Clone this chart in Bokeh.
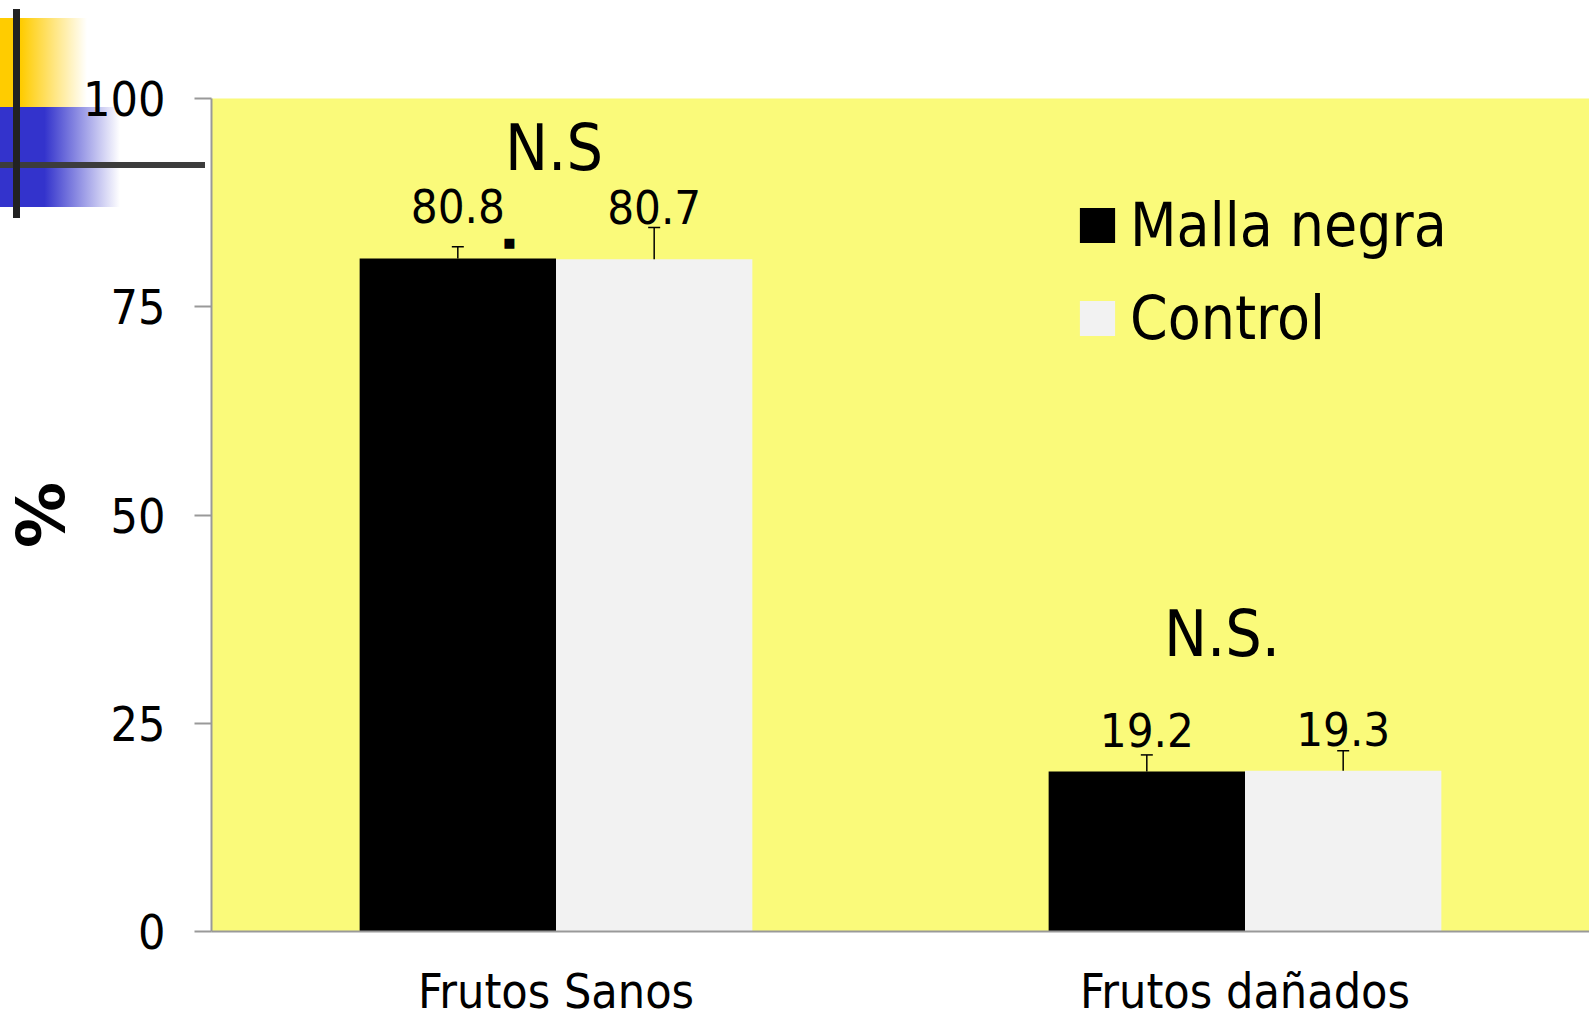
from bokeh.plotting import figure
from bokeh.models import (FactorRange, FixedTicker, ColumnDataSource, Legend, LegendItem,
                          Label, Range1d, InlineStyleSheet)
from bokeh.transform import dodge
from bokeh.embed import file_html
from bokeh.resources import INLINE
from bokeh.core.properties import value

# ---------------- data ----------------
categories = ["Frutos Sanos", "Frutos dañados"]
series_names = ["Malla negra", "Control"]
malla = [80.8, 19.2]
control = [80.7, 19.3]
malla_err = [1.4, 2.0]
control_err = [3.8, 2.4]
y_ticks = [0, 25, 50, 75, 100]
sig_labels = ["N.S", "N.S."]

# ---------------- style ----------------
FONT = "DejaVu Sans Condensed, DejaVu Sans"
YELLOW_BG = "#FAFA7A"
CONTROL_COL = "#F2F2F2"
AXIS_COL = "#999999"
W, H = 1589, 1021
FL, FT, FB = 207, 98, 934   # frame edges (canvas px)
BAR_W = 0.285
OFF = BAR_W / 2
label_pad = [6.3, 5.0]      # value-label lift per category (y units)

p = figure(x_range=FactorRange(factors=categories, range_padding=0),
           y_range=Range1d(0, 100), width=W, height=H,
           output_backend="svg", toolbar_location=None,
           min_border_left=FL, min_border_right=0, min_border_top=FT,
           min_border_bottom=H - FB)
p.background_fill_color = YELLOW_BG
p.border_fill_alpha = 0
p.outline_line_color = None
p.grid.visible = False

# slide decoration (top-left) drawn as the figure's CSS background
deco = {
    "background-color": "white",
    "background-image": ("linear-gradient(#222222,#222222), "
                         "linear-gradient(#3C3C3C,#3C3C3C), "
                         "linear-gradient(to right, #FFCC00 0%, #FFCC00 24%, rgba(255,204,0,0) 100%), "
                         "linear-gradient(to right, #3333CC 0%, #3333CC 37%, rgba(51,51,204,0) 100%)"),
    "background-position": "13px 9px, 0px 162px, 0px 18px, 0px 107px",
    "background-size": "7px 209px, 205px 6px, 87px 89px, 120px 100px",
    "background-repeat": "no-repeat",
}
p.styles = deco
p.stylesheets = [InlineStyleSheet(css=":host {" + "".join(f"{k}: {v};" for k, v in deco.items()) + "}")]

# y axis
p.yaxis.ticker = FixedTicker(ticks=y_ticks)
p.yaxis.major_label_text_font = FONT
p.yaxis.major_label_text_font_size = "48px"
p.yaxis.major_label_text_color = "black"
p.yaxis.major_tick_out = 17
p.yaxis.major_tick_in = 0
p.yaxis.minor_tick_out = 0
p.yaxis.minor_tick_in = 0
p.yaxis.major_tick_line_color = AXIS_COL
p.yaxis.major_tick_line_width = 2
p.yaxis.axis_line_color = AXIS_COL
p.yaxis.axis_line_width = 2
p.yaxis.major_label_standoff = 29
p.yaxis.axis_label = "%"
p.yaxis.axis_label_text_font = "DejaVu Sans"
p.yaxis.axis_label_text_font_size = "66px"
p.yaxis.axis_label_text_font_style = "bold"
p.yaxis.axis_label_text_color = "black"
p.yaxis.axis_label_standoff = 0

# x axis
p.xaxis.major_label_text_font = FONT
p.xaxis.major_label_text_font_size = "48px"
p.xaxis.major_label_text_color = "black"
p.xaxis.major_tick_out = 0
p.xaxis.major_tick_in = 0
p.xaxis.axis_line_color = AXIS_COL
p.xaxis.axis_line_width = 2
p.xaxis.major_label_standoff = 31

src = ColumnDataSource(dict(
    cat=categories,
    malla=malla, control=control,
    malla_hi=[v + e for v, e in zip(malla, malla_err)],
    control_hi=[v + e for v, e in zip(control, control_err)],
    malla_txt=[f"{v:.1f}" for v in malla],
    control_txt=[f"{v:.1f}" for v in control],
    malla_ly=[v + d for v, d in zip(malla, label_pad)],
    control_ly=[v + d for v, d in zip(control, label_pad)],
))

xm = dodge("cat", -OFF, range=p.x_range)
xc = dodge("cat", OFF, range=p.x_range)

r1 = p.vbar(x=xm, top="malla", width=BAR_W, source=src, fill_color="black", line_color=None)
r2 = p.vbar(x=xc, top="control", width=BAR_W, source=src, fill_color=CONTROL_COL, line_color=None)

# error bars (upper only)
p.segment(x0=xm, y0="malla", x1=xm, y1="malla_hi", source=src, line_color="black", line_width=1.5)
p.segment(x0=xc, y0="control", x1=xc, y1="control_hi", source=src, line_color="black", line_width=1.5)
p.scatter(x=xm, y="malla_hi", source=src, marker="dash", size=12, line_color="black", line_width=1.5)
p.scatter(x=xc, y="control_hi", source=src, marker="dash", size=12, line_color="black", line_width=1.5)

# value labels
for col_x, col_y, col_t in [(xm, "malla_ly", "malla_txt"), (xc, "control_ly", "control_txt")]:
    p.text(x=col_x, y=col_y, text=col_t, source=src, text_align="center",
           text_baseline="alphabetic", text_font=value(FONT), text_font_size="47px",
           text_color="black")

# significance labels
sig_src = ColumnDataSource(dict(cat=categories, txt=sig_labels, y=[94.0, 35.7], xo=[-2, -23]))
p.text(x="cat", y="y", text="txt", x_offset="xo", source=sig_src, text_align="center",
       text_baseline="alphabetic", text_font=value(FONT), text_font_size="64px",
       text_color="black")

# stray dot
p.add_layout(Label(x=509, y=242, x_units="canvas", y_units="canvas", text="\u25A0",
                   text_font="DejaVu Sans", text_font_size="13px", text_align="center",
                   text_baseline="middle", text_color="black"))

# legend
legend = Legend(items=[LegendItem(label=series_names[0], renderers=[r1]),
                       LegendItem(label=series_names[1], renderers=[r2])],
                location=(864, 578), label_text_font=FONT, label_text_font_size="60px",
                label_text_color="black",
                glyph_width=44, glyph_height=44, label_standoff=11, spacing=23,
                padding=0, margin=0, background_fill_alpha=0, border_line_color=None)
p.add_layout(legend)

open("out.html", "w").write(file_html(p, INLINE))
